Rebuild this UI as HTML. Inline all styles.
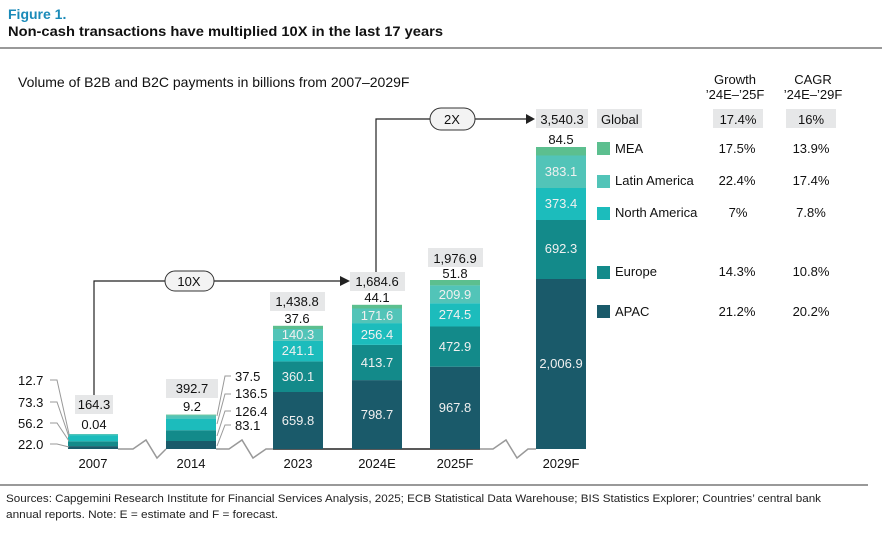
<!DOCTYPE html>
<html><head><meta charset="utf-8"><style>
body{margin:0;background:#fff;}
svg{display:block;font-family:"Liberation Sans",sans-serif;}
.w{fill:#f0f0f0;font-size:13px;text-anchor:middle}
.b{fill:#111;font-size:13px;text-anchor:middle}
.l{fill:#111;font-size:13px}
</style></head><body>
<svg width="882" height="535" viewBox="0 0 882 535">
<text x="8" y="19" fill="#1a8ab8" font-size="14" font-weight="bold">Figure 1.</text>
<text x="8" y="36" fill="#111" font-size="14" font-weight="bold" textLength="435" lengthAdjust="spacingAndGlyphs">Non-cash transactions have multiplied 10X in the last 17 years</text>
<line x1="0" y1="48" x2="882" y2="48" stroke="#333" stroke-width="1"/>
<text x="18" y="87" fill="#111" font-size="14">Volume of B2B and B2C payments in billions from 2007–2029F</text>
<text x="735" y="84" class="b">Growth</text><text x="735" y="99" class="b">’24E–’25F</text>
<text x="813" y="84" class="b">CAGR</text><text x="813" y="99" class="b">’24E–’29F</text>

<g fill="none" stroke-width="1.5">
<path d="M118 449 H133 L146 440 L157 458 L166 449" stroke="#999"/>
<path d="M216 449 H229 L242 440 L253 458 L266 449 H273" stroke="#999"/>
<line x1="273" y1="449" x2="480" y2="449" stroke="#222"/>
<path d="M480 449 H493 L506 440 L517 458 L528 449 H536" stroke="#999"/>
</g>

<g>
<rect x="68" y="446.1" width="50" height="2.9" fill="#1a5a6a"/>
<rect x="68" y="441.3" width="50" height="4.8" fill="#138a8a"/>
<rect x="68" y="435.1" width="50" height="6.2" fill="#1cbcbc"/>
<rect x="68" y="434" width="50" height="1.1" fill="#52c4b8"/>
<rect x="166" y="441" width="50" height="8" fill="#1a5a6a"/>
<rect x="166" y="430.2" width="50" height="10.8" fill="#138a8a"/>
<rect x="166" y="418.6" width="50" height="11.6" fill="#1cbcbc"/>
<rect x="166" y="415.4" width="50" height="3.2" fill="#52c4b8"/>
<rect x="166" y="414.6" width="50" height="0.8" fill="#5cbf8f"/>
<rect x="273" y="392" width="50" height="57" fill="#1a5a6a"/>
<rect x="273" y="361.4" width="50" height="30.6" fill="#138a8a"/>
<rect x="273" y="340.9" width="50" height="20.5" fill="#1cbcbc"/>
<rect x="273" y="329" width="50" height="11.9" fill="#52c4b8"/>
<rect x="273" y="325.8" width="50" height="3.2" fill="#5cbf8f"/>
<rect x="352" y="380.1" width="50" height="68.9" fill="#1a5a6a"/>
<rect x="352" y="344.9" width="50" height="35.2" fill="#138a8a"/>
<rect x="352" y="323.1" width="50" height="21.8" fill="#1cbcbc"/>
<rect x="352" y="308.5" width="50" height="14.6" fill="#52c4b8"/>
<rect x="352" y="304.8" width="50" height="3.7" fill="#5cbf8f"/>
<rect x="430" y="366.7" width="50" height="82.3" fill="#1a5a6a"/>
<rect x="430" y="326.5" width="50" height="40.2" fill="#138a8a"/>
<rect x="430" y="303.2" width="50" height="23.3" fill="#1cbcbc"/>
<rect x="430" y="285.4" width="50" height="17.8" fill="#52c4b8"/>
<rect x="430" y="280" width="50" height="5.4" fill="#5cbf8f"/>
<rect x="536" y="279" width="50" height="170" fill="#1a5a6a"/>
<rect x="536" y="220" width="50" height="59" fill="#138a8a"/>
<rect x="536" y="188" width="50" height="32" fill="#1cbcbc"/>
<rect x="536" y="155.5" width="50" height="32.5" fill="#52c4b8"/>
<rect x="536" y="147" width="50" height="8.5" fill="#5cbf8f"/>
</g>

<text x="298" y="425" class="w">659.8</text><text x="298" y="381" class="w">360.1</text>
<text x="298" y="355" class="w">241.1</text><text x="298" y="339" class="w">140.3</text>
<text x="377" y="419" class="w">798.7</text><text x="377" y="367" class="w">413.7</text>
<text x="377" y="339" class="w">256.4</text><text x="377" y="320" class="w">171.6</text>
<text x="455" y="412" class="w">967.8</text><text x="455" y="351" class="w">472.9</text>
<text x="455" y="319" class="w">274.5</text><text x="455" y="299" class="w">209.9</text>
<text x="561" y="368" class="w">2,006.9</text><text x="561" y="253" class="w">692.3</text>
<text x="561" y="208" class="w">373.4</text><text x="561" y="176" class="w">383.1</text>

<g fill="#e6e7e8">
<rect x="75" y="395" width="38" height="19"/>
<rect x="166" y="379" width="52" height="19"/>
<rect x="270" y="292" width="55" height="19"/>
<rect x="350" y="272" width="55" height="19"/>
<rect x="428" y="248" width="55" height="19"/>
<rect x="536" y="109" width="52" height="19"/>
<rect x="597" y="109" width="45" height="19"/>
<rect x="713" y="109" width="50" height="19"/>
<rect x="786" y="109" width="50" height="19"/>
</g>
<text x="94" y="409" class="b">164.3</text><text x="94" y="429" class="b">0.04</text>
<text x="192" y="393" class="b">392.7</text><text x="192" y="411" class="b">9.2</text>
<text x="297" y="306" class="b">1,438.8</text><text x="297" y="323" class="b">37.6</text>
<text x="377" y="286" class="b">1,684.6</text><text x="377" y="302" class="b">44.1</text>
<text x="455" y="263" class="b">1,976.9</text><text x="455" y="278" class="b">51.8</text>
<text x="562" y="124" class="b">3,540.3</text><text x="561" y="144" class="b">84.5</text>

<g fill="none" stroke="#999" stroke-width="1">
<path d="M50 380 H57 L69 434"/><path d="M50 402 H57 L69 437"/>
<path d="M50 423 H57 L69 441"/><path d="M50 444 H57 L69 447"/>
<path d="M231 376 H225 L217 416"/><path d="M231 394 H225 L217 424"/>
<path d="M231 411 H225 L217 436"/><path d="M231 425 H225 L217 446"/>
</g>
<text x="18" y="385" class="l">12.7</text><text x="18" y="407" class="l">73.3</text>
<text x="18" y="428" class="l">56.2</text><text x="18" y="449" class="l">22.0</text>
<text x="235" y="381" class="l">37.5</text><text x="235" y="398" class="l">136.5</text>
<text x="235" y="416" class="l">126.4</text><text x="235" y="430" class="l">83.1</text>

<g fill="none" stroke="#222" stroke-width="1.2">
<path d="M94 395 V281 H340"/>
<path d="M376 272 V119 H526"/>
</g>
<polygon points="340,276 350,281 340,286" fill="#222"/>
<polygon points="526,114 535,119 526,124" fill="#222"/>
<rect x="165" y="271" width="49" height="20" rx="10" fill="#f3f3f3" stroke="#333"/>
<text x="189" y="286" class="b" font-size="14">10X</text>
<rect x="430" y="108" width="45" height="22" rx="11" fill="#f3f3f3" stroke="#333"/>
<text x="452" y="124" class="b" font-size="14">2X</text>

<text x="93" y="468" class="b">2007</text><text x="191" y="468" class="b">2014</text>
<text x="298" y="468" class="b">2023</text><text x="377" y="468" class="b">2024E</text>
<text x="455" y="468" class="b">2025F</text><text x="561" y="468" class="b">2029F</text>

<text x="601" y="124" class="l">Global</text>
<text x="738" y="124" class="b">17.4%</text><text x="811" y="124" class="b">16%</text>
<rect x="597" y="142" width="13" height="13" fill="#5cbf8f"/><text x="615" y="153" class="l">MEA</text>
<text x="737" y="153" class="b">17.5%</text><text x="811" y="153" class="b">13.9%</text>
<rect x="597" y="175" width="13" height="13" fill="#52c4b8"/><text x="615" y="185" class="l">Latin America</text>
<text x="737" y="185" class="b">22.4%</text><text x="811" y="185" class="b">17.4%</text>
<rect x="597" y="207" width="13" height="13" fill="#1cbcbc"/><text x="615" y="217" class="l">North America</text>
<text x="738" y="217" class="b">7%</text><text x="811" y="217" class="b">7.8%</text>
<rect x="597" y="266" width="13" height="13" fill="#138a8a"/><text x="615" y="276" class="l">Europe</text>
<text x="737" y="276" class="b">14.3%</text><text x="811" y="276" class="b">10.8%</text>
<rect x="597" y="305" width="13" height="13" fill="#1a5a6a"/><text x="615" y="316" class="l">APAC</text>
<text x="737" y="316" class="b">21.2%</text><text x="811" y="316" class="b">20.2%</text>

<line x1="0" y1="485" x2="868" y2="485" stroke="#333" stroke-width="1"/>
<text x="6" y="502" fill="#222" font-size="11" textLength="815" lengthAdjust="spacingAndGlyphs">Sources: Capgemini Research Institute for Financial Services Analysis, 2025; ECB Statistical Data Warehouse; BIS Statistics Explorer; Countries’ central bank</text>
<text x="6" y="518" fill="#222" font-size="11" textLength="272" lengthAdjust="spacingAndGlyphs">annual reports. Note: E = estimate and F = forecast.</text>
</svg>
</body></html>
